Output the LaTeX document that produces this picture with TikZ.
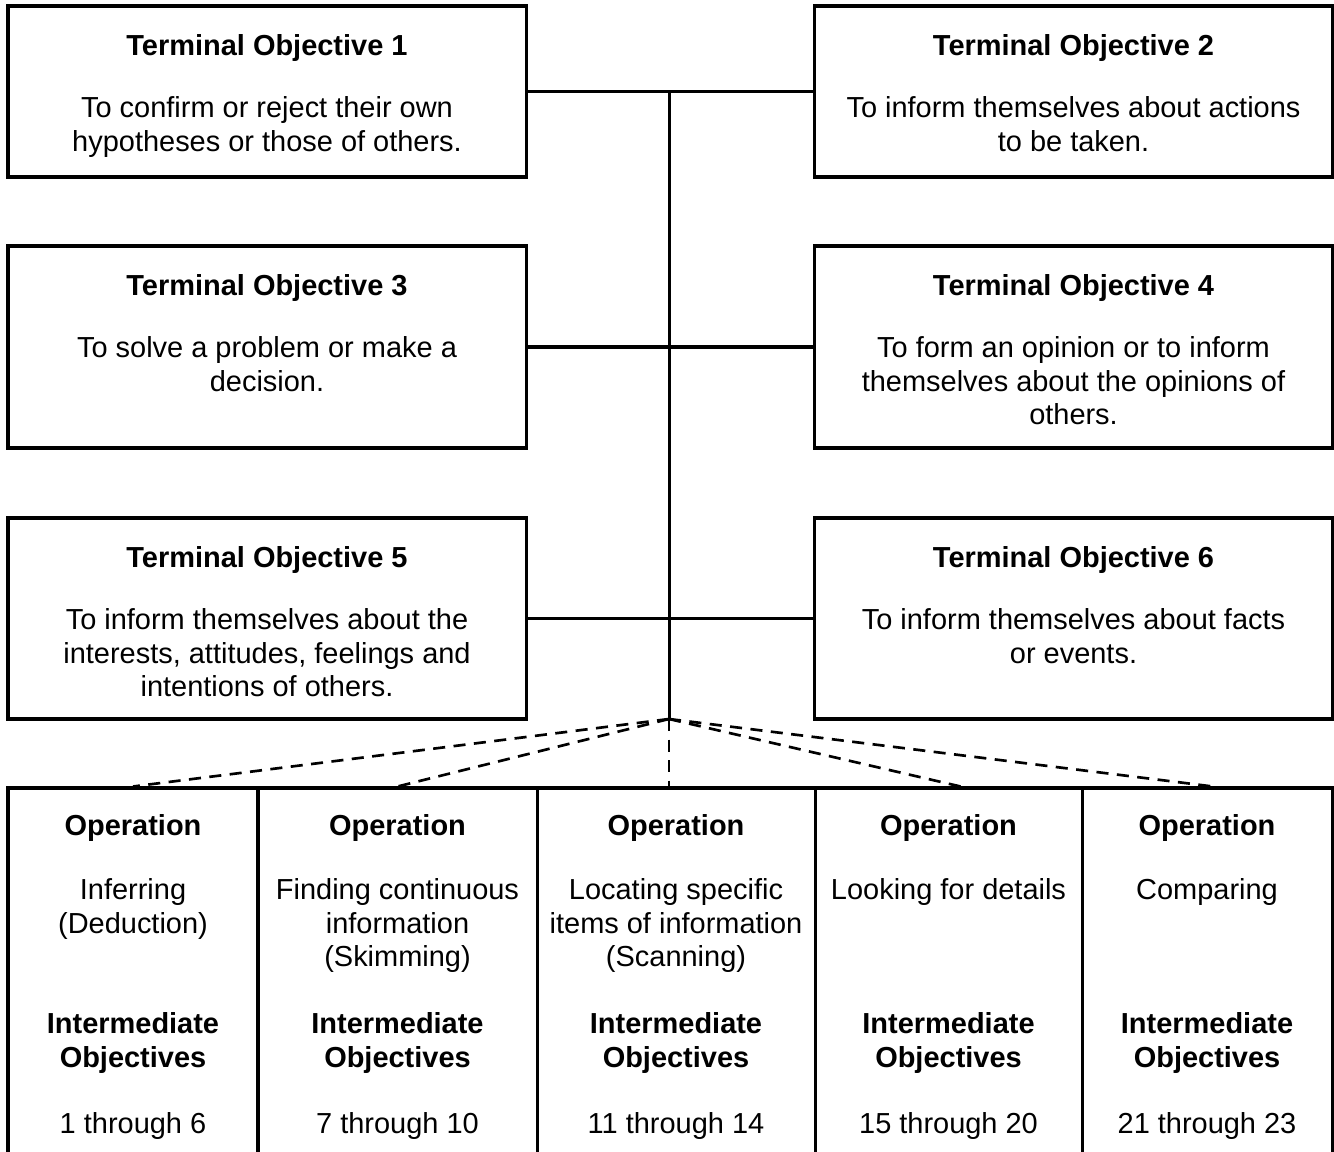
\documentclass[tikz,border=0pt]{standalone}
\usepackage{fontspec}
\setmainfont{Liberation Sans}
\usetikzlibrary{positioning}
\newlength{\unitpx}
\setlength{\unitpx}{0.4144pt}
\tikzset{%
  % Specifications for style of nodes:
       objbox/.style = {rectangle, draw=black, line width=1.25pt,
                        minimum width=518\unitpx, inner sep=0pt},
     objtitle/.style = {inner sep=0pt, font=\fontsize{12}{13.8}\selectfont\bfseries},
      objtext/.style = {inner sep=0pt, align=center},
        opcol/.style = {rectangle, draw=black, line width=1.25pt,
                        minimum height=382\unitpx, inner sep=0pt},
     optitle/.style = {objtitle, align=center},
         link/.style = {line width=1.25pt},
     dashlink/.style = {line width=1.1pt, dash pattern=on 5pt off 3.5pt}
}
\begin{document}
\begin{tikzpicture}[x=0.4144pt, y=-0.4144pt, every node/.style={font=\fontsize{12}{13.8}\selectfont}]
  \useasboundingbox (0,0) rectangle (1334,1152);

  \node (to1) [objbox, minimum height=171\unitpx] at (267,91.5) {};
  \node (to1h) [objtitle, below=30\unitpx of to1.north] {Terminal Objective 1};
  \node (to1t) [objtext, below=92\unitpx of to1.north] {To confirm or reject their own\\hypotheses or those of others.};

  \node (to2) [objbox, minimum height=171\unitpx] at (1073.5,91.5) {};
  \node (to2h) [objtitle, below=30\unitpx of to2.north] {Terminal Objective 2};
  \node (to2t) [objtext, below=92\unitpx of to2.north] {To inform themselves about actions\\to be taken.};

  \node (to3) [objbox, minimum height=202\unitpx] at (267,347) {};
  \node (to3h) [objtitle, below=30\unitpx of to3.north] {Terminal Objective 3};
  \node (to3t) [objtext, below=92\unitpx of to3.north] {To solve a problem or make a\\decision.};

  \node (to4) [objbox, minimum height=202\unitpx] at (1073.5,347) {};
  \node (to4h) [objtitle, below=30\unitpx of to4.north] {Terminal Objective 4};
  \node (to4t) [objtext, below=92\unitpx of to4.north] {To form an opinion or to inform\\themselves about the opinions of\\others.};

  \node (to5) [objbox, minimum height=201\unitpx] at (267,618.5) {};
  \node (to5h) [objtitle, below=30\unitpx of to5.north] {Terminal Objective 5};
  \node (to5t) [objtext, below=92\unitpx of to5.north] {To inform themselves about the\\interests, attitudes, feelings and\\intentions of others.};

  \node (to6) [objbox, minimum height=201\unitpx] at (1073.5,618.5) {};
  \node (to6h) [objtitle, below=30\unitpx of to6.north] {Terminal Objective 6};
  \node (to6t) [objtext, below=92\unitpx of to6.north] {To inform themselves about facts\\or events.};

  % operations
  \node (op1) [opcol, minimum width=250\unitpx] at (133,979) {};
  \node (op1h) [objtitle, below=28\unitpx of op1.north] {Operation};
  \node (op1t) [objtext, below=92\unitpx of op1.north] {Inferring\\(Deduction)};
  \node (op1i) [optitle, below=226\unitpx of op1.north] {Intermediate\\Objectives};
  \node (op1r) [objtext, below=326\unitpx of op1.north] {1 through 6};

  \node (op2) [opcol, minimum width=279\unitpx] at (397.5,979) {};
  \node (op2h) [objtitle, below=28\unitpx of op2.north] {Operation};
  \node (op2t) [objtext, below=92\unitpx of op2.north] {Finding continuous\\information\\(Skimming)};
  \node (op2i) [optitle, below=226\unitpx of op2.north] {Intermediate\\Objectives};
  \node (op2r) [objtext, below=326\unitpx of op2.north] {7 through 10};

  \node (op3) [opcol, minimum width=278\unitpx] at (676,979) {};
  \node (op3h) [objtitle, below=28\unitpx of op3.north] {Operation};
  \node (op3t) [objtext, below=92\unitpx of op3.north] {Locating specific\\items of information\\(Scanning)};
  \node (op3i) [optitle, below=226\unitpx of op3.north] {Intermediate\\Objectives};
  \node (op3r) [objtext, below=326\unitpx of op3.north] {11 through 14};

  \node (op4) [opcol, minimum width=267\unitpx] at (948.5,979) {};
  \node (op4h) [objtitle, below=28\unitpx of op4.north] {Operation};
  \node (op4t) [objtext, below=92\unitpx of op4.north] {Looking for details};
  \node (op4i) [optitle, below=226\unitpx of op4.north] {Intermediate\\Objectives};
  \node (op4r) [objtext, below=326\unitpx of op4.north] {15 through 20};

  \node (op5) [opcol, minimum width=250\unitpx] at (1207,979) {};
  \node (op5h) [objtitle, below=28\unitpx of op5.north] {Operation};
  \node (op5t) [objtext, below=92\unitpx of op5.north] {Comparing};
  \node (op5i) [optitle, below=226\unitpx of op5.north] {Intermediate\\Objectives};
  \node (op5r) [objtext, below=326\unitpx of op5.north] {21 through 23};

  \coordinate (trunk) at (669,92);
  \coordinate (hub) at (669,719);

    \draw[link]     (trunk) -- (hub);
    \draw[link]     (to1.east) -- (to2.west);
    \draw[link]     (to3.east) -- (to4.west);
    \draw[link]     (to5.east) -- (to6.west);
    \draw[dashlink] (hub) -- (op1.north);
    \draw[dashlink] (hub) -- (op2.north);
    \draw[dashlink] (hub) -- (hub |- op3.north);
    \draw[dashlink] (hub) -- ([xshift=5pt]op4.north);
    \draw[dashlink] (hub) -- ([xshift=2.5pt]op5.north);
\end{tikzpicture}
\end{document}
